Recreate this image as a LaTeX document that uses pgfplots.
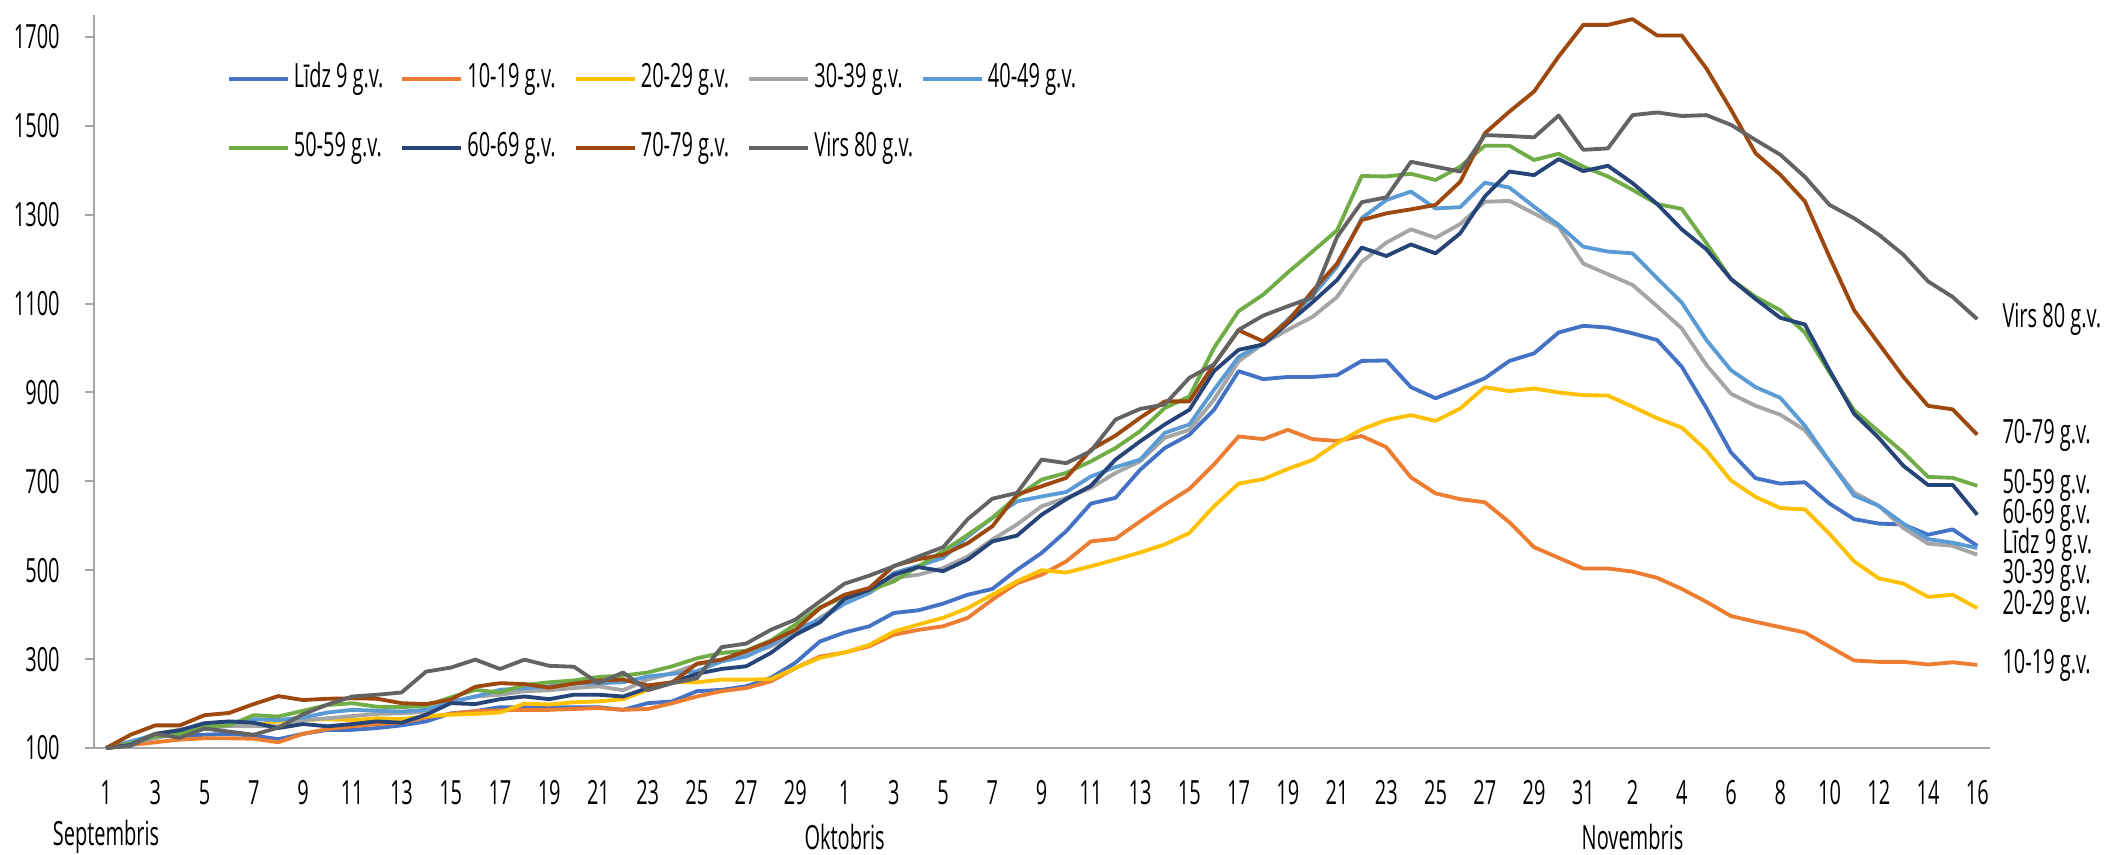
\documentclass[border=0pt]{standalone}
\usepackage{fontspec}
\setmainfont{Open Sans}[FakeStretch=0.6]
\usepackage{pgfplots}
\usepackage{pgfplotstable}
\pgfplotsset{compat=1.18}

\definecolor{c1}{HTML}{4472C4}
\definecolor{c2}{HTML}{ED7D31}
\definecolor{c3}{HTML}{FFC000}
\definecolor{c4}{HTML}{A5A5A5}
\definecolor{c5}{HTML}{5B9BD5}
\definecolor{c6}{HTML}{70AD47}
\definecolor{c7}{HTML}{264478}
\definecolor{c8}{HTML}{9E480E}
\definecolor{c9}{HTML}{636363}
\definecolor{axgray}{HTML}{A6A6A6}

% day index (0 = 1 Sept) and one column per age group
\pgfplotstableread{
i s1 s2 s3 s4 s5 s6 s7 s8 s9
0 100 100 100 100 100 100 100 100 100
1 107 107 111 111 115 111 107 130 105
2 126 113 132 122 130 126 132 151 132
3 128 119 141 135 141 132 140 151 123
4 130 122 149 143 149 149 156 174 144
5 132 122 152 150 157 151 160 179 137
6 128 121 152 149 165 174 157 199 130
7 120 113 160 149 163 171 145 217 146
8 132 132 163 163 169 184 154 208 176
9 141 143 165 167 180 197 149 211 198
10 141 149 163 172 186 201 154 212 216
11 145 154 167 177 184 193 160 211 220
12 151 157 165 178 182 192 157 201 225
13 160 169 172 182 186 195 175 199 272
14 178 177 175 203 204 214 201 209 281
15 183 183 177 216 216 231 199 238 299
16 192 185 180 220 231 225 210 246 278
17 192 186 200 228 235 242 216 244 299
18 192 186 198 230 239 248 210 236 285
19 192 188 203 235 245 252 220 245 283
20 192 190 205 239 246 260 220 252 246
21 186 186 210 230 248 263 216 254 270
22 201 188 231 254 261 270 235 241 230
23 205 201 248 269 267 284 248 248 246
24 228 216 248 288 273 302 267 290 257
25 231 228 254 299 295 314 278 299 327
26 239 235 254 310 306 319 284 318 335
27 258 250 255 329 332 342 314 340 366
28 292 280 280 355 366 378 355 366 389
29 340 306 303 393 389 417 383 415 430
30 360 315 315 428 425 440 436 445 470
31 374 329 332 449 449 455 456 460 488
32 404 355 362 483 494 475 490 510 509
33 410 366 378 490 510 509 507 525 531
34 425 374 393 505 528 543 498 535 552
35 445 393 415 531 576 580 524 561 615
36 458 434 445 569 618 618 565 599 661
37 501 471 475 603 655 666 578 670 674
38 539 490 500 644 666 704 625 689 749
39 588 520 495 663 676 719 660 708 741
40 650 565 509 685 711 745 690 771 768
41 663 571 524 719 732 775 749 803 839
42 726 610 540 745 749 813 790 843 863
43 775 648 558 798 809 865 828 880 873
44 805 683 584 816 828 891 861 880 933
45 861 738 644 884 906 1000 948 963 963
46 948 801 695 970 980 1083 996 1040 1041
47 930 795 705 1010 1011 1120 1008 1015 1073
48 935 816 728 1041 1064 1170 1056 1060 1094
49 935 795 748 1070 1118 1217 1103 1128 1114
50 939 791 786 1115 1183 1265 1153 1190 1250
51 971 802 817 1194 1292 1387 1226 1288 1328
52 972 777 838 1237 1333 1386 1207 1303 1339
53 912 709 849 1267 1352 1392 1233 1312 1419
54 887 673 836 1248 1314 1378 1213 1322 1408
55 909 660 864 1279 1317 1408 1258 1374 1397
56 932 653 912 1329 1372 1455 1341 1483 1479
57 971 608 903 1331 1361 1455 1397 1532 1477
58 988 552 909 1303 1318 1423 1389 1577 1474
59 1035 528 900 1273 1277 1437 1425 1656 1523
60 1050 504 894 1190 1228 1408 1398 1727 1446
61 1046 504 893 1166 1217 1386 1410 1727 1449
62 1033 497 868 1142 1213 1356 1371 1740 1524
63 1018 483 842 1094 1157 1324 1324 1703 1530
64 958 458 821 1044 1102 1313 1267 1703 1522
65 865 429 770 962 1018 1236 1222 1629 1524
66 765 397 702 897 950 1155 1155 1536 1502
67 707 384 665 870 912 1115 1110 1438 1468
68 695 372 640 850 888 1085 1068 1390 1435
69 698 360 637 815 825 1035 1053 1330 1385
70 650 328 582 745 745 945 950 1205 1322
71 615 297 520 675 668 860 852 1085 1292
72 605 294 482 645 645 812 798 1010 1255
73 603 294 470 595 605 765 735 935 1210
74 580 288 440 560 570 710 692 870 1150
75 592 293 445 555 562 708 692 862 1115
76 555 287 415 535 550 690 625 805 1065
}\data

\begin{document}
\begin{tikzpicture}[font=\fontsize{10bp}{12bp}\selectfont]
\begin{axis}[
    width=568.7bp, height=220bp, scale only axis,
    xmin=-0.5, xmax=76.5, ymin=100, ymax=1750,
    axis lines=left,
    axis line style={-, draw=axgray, line width=0.6bp},
    clip=false,
    xtick={0,2,...,76},
    xticklabels={1,3,5,7,9,11,13,15,17,19,21,23,25,27,29,
                 1,3,5,7,9,11,13,15,17,19,21,23,25,27,29,31,
                 2,4,6,8,10,12,14,16},
    x tick style={draw=none},
    ytick={100,300,...,1700},
    y tick style={draw=axgray, line width=0.6bp},
    tick align=outside,
    major tick length=2.7bp,
    xticklabel style={yshift=-3.6bp},
    yticklabel style={xshift=-4bp},
    /pgf/number format/assume math mode=true,
    /pgf/number format/1000 sep={},
    every axis plot/.append style={line width=1.15bp, line join=round},
    legend columns=5,
    legend cell align=left,
    legend image code/.code={\draw[#1] (0bp,0bp) -- (17.7bp,0bp);},
    legend style={draw=none, fill=none, at={(0.0647,0.949)}, anchor=north west,
        nodes={inner xsep=1.2bp, inner ysep=1bp, text height=7.5bp, text depth=2.5bp},
        /tikz/every even column/.append style={column sep=2.8bp},
        row sep=8.6bp},
]
\addplot[c1] table[x=i, y=s1] {\data};
\addlegendentry{\makebox[28bp][l]{Līdz 9 g.v.}}
\addplot[c2] table[x=i, y=s2] {\data};
\addlegendentry{\makebox[28bp][l]{10-19 g.v.}}
\addplot[c3] table[x=i, y=s3] {\data};
\addlegendentry{\makebox[28bp][l]{20-29 g.v.}}
\addplot[c4] table[x=i, y=s4] {\data};
\addlegendentry{\makebox[28bp][l]{30-39 g.v.}}
\addplot[c5] table[x=i, y=s5] {\data};
\addlegendentry{\makebox[28bp][l]{40-49 g.v.}}
\addplot[c6] table[x=i, y=s6] {\data};
\addlegendentry{\makebox[28bp][l]{50-59 g.v.}}
\addplot[c7] table[x=i, y=s7] {\data};
\addlegendentry{\makebox[28bp][l]{60-69 g.v.}}
\addplot[c8] table[x=i, y=s8] {\data};
\addlegendentry{\makebox[28bp][l]{70-79 g.v.}}
\addplot[c9] table[x=i, y=s9] {\data};
\addlegendentry{\makebox[28bp][l]{Virs 80 g.v.}}

% labels at the line ends
\node[anchor=west, inner sep=0] at (axis cs:77.0,1065) {Virs 80 g.v.};
\node[anchor=west, inner sep=0] at (axis cs:77.0,804) {70-79 g.v.};
\node[anchor=west, inner sep=0] at (axis cs:77.0,692) {50-59 g.v.};
\node[anchor=west, inner sep=0] at (axis cs:77.0,624) {60-69 g.v.};
\node[anchor=west, inner sep=0] at (axis cs:77.0,557) {Līdz 9 g.v.};
\node[anchor=west, inner sep=0] at (axis cs:77.0,489) {30-39 g.v.};
\node[anchor=west, inner sep=0] at (axis cs:77.0,418) {20-29 g.v.};
\node[anchor=west, inner sep=0] at (axis cs:77.0,287) {10-19 g.v.};

% month names
\node[inner sep=0] at (axis cs:0,-100) {Septembris};
\node[inner sep=0] at (axis cs:30,-100) {Oktobris};
\node[inner sep=0] at (axis cs:62,-100) {Novembris};

\coordinate (BL) at (axis cs:-4.306,-138.5);
\coordinate (TR) at (axis cs:81.19,1783);
\end{axis}
\pgfresetboundingbox
\useasboundingbox (BL) rectangle (TR);
\end{tikzpicture}
\end{document}
